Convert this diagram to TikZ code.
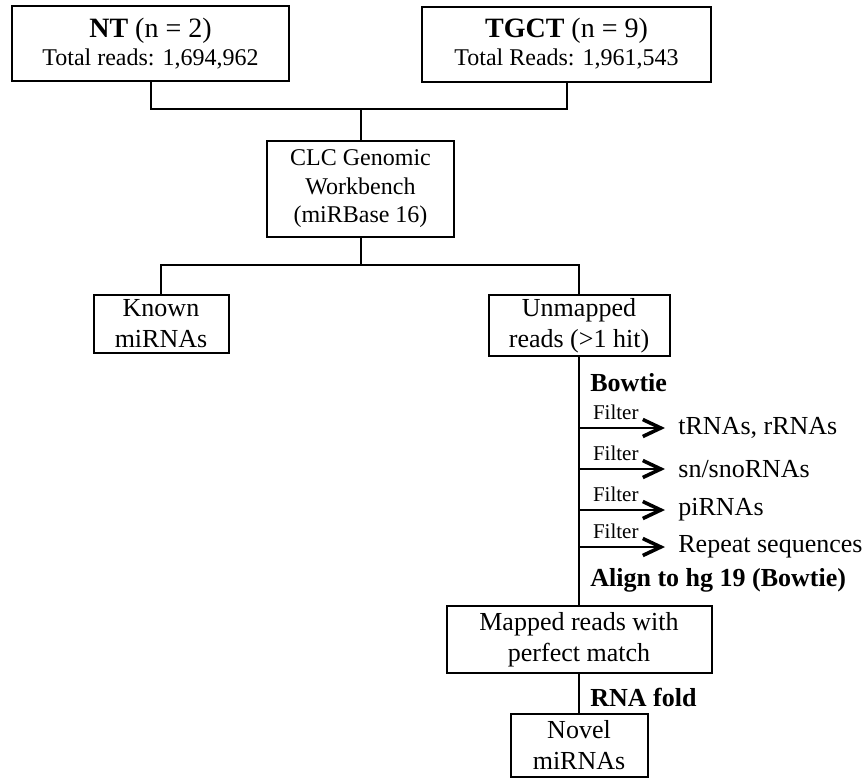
\documentclass[tikz,border=0pt]{standalone}
\usepackage{fontspec}
\setmainfont{Liberation Serif}
\usetikzlibrary{arrows.meta,positioning,calc}

\begin{document}
\begin{tikzpicture}[x=0.5pt,y=-0.5pt,
                stage/.style={draw,line width=1pt,align=center,inner sep=1pt,
                              font=\fontsize{13}{15.5}\selectfont},
                link/.style={line width=1pt},
                steplbl/.style={font=\fontsize{13}{15.5}\selectfont\bfseries,
                                anchor=west,inner sep=1pt},
                sidelbl/.style={font=\fontsize{13}{15.5}\selectfont,anchor=west,inner sep=1pt},
                filterlbl/.style={font=\fontsize{10.5}{12}\selectfont,anchor=south west,
                                  inner sep=0pt,xshift=6.5pt,yshift=3.5pt},
                filterarrow/.style={line width=1pt,shorten >=5.5pt,
                                    -{Straight Barb[length=9pt,width=8.5pt,line width=1.8pt]}}
            ]
                \useasboundingbox (0,0) rectangle (868,778);
                % samples
                \node[stage,minimum width=138.5pt,minimum height=37.5pt,
                      font=\fontsize{12}{14}\selectfont] (nt) at (150.5,43.5) {
                    {\fontsize{14}{14}\selectfont\textbf{NT} (n = 2)}\\
                    Total reads: 1,694,962
                };
                \node[stage,minimum width=144.5pt,minimum height=37.5pt,
                      font=\fontsize{12}{14}\selectfont] (tgct) at (566.5,44) {
                    {\fontsize{14}{14}\selectfont\textbf{TGCT} (n = 9)}\\
                    Total Reads: 1,961,543
                };
                % mapping
                \node[stage,minimum width=93.5pt,minimum height=48pt,
                      font=\fontsize{12}{14.2}\selectfont] (clc) at (360.5,189) {
                    CLC Genomic\\Workbench\\(miRBase 16)
                };
                \node[stage,minimum width=67.5pt,minimum height=29pt] (known) at (161,324) {
                    Known\\miRNAs
                };
                \node[stage,minimum width=90.5pt,minimum height=30.5pt] (unmapped) at (579,325.5) {
                    Unmapped\\reads (>1 hit)
                };
                \node[stage,minimum width=132.5pt,minimum height=33.5pt] (mapped) at (579,639.5) {
                    Mapped reads with\\perfect match
                };
                \node[stage,minimum width=68.5pt,minimum height=31.5pt] (novel) at (579,745.5) {
                    Novel\\miRNAs
                };

                \coordinate (merge) at (360.5,109);
                \coordinate (split) at (360.5,265);
                \draw[link] (nt.south) |- (merge) -| (tgct.south);
                \draw[link] (merge) -- (clc.north);
                \draw[link] (clc.south) -- (split);
                \draw[link] (known.north) |- (split) -| (unmapped.north);
                \draw[link] (unmapped.south) -- (mapped.north);
                \draw[link] (mapped.south) -- (novel.north);

                % filtering steps
                \node[steplbl] (bowtie) at (588,383) {Bowtie};
                \node[sidelbl] (trna) at (676,428) {tRNAs, rRNAs};
                \node[sidelbl] (snorna) at (676,469) {sn/snoRNAs};
                \node[sidelbl] (pirna) at (676,510) {piRNAs};
                \node[sidelbl] (repeats) at (676,547) {Repeat sequences};
                \draw[filterarrow] (unmapped.south |- trna.west)
                    -- node[filterlbl,pos=0] (filter1) {Filter} (trna.west);
                \draw[filterarrow] (unmapped.south |- snorna.west)
                    -- node[filterlbl,pos=0] (filter2) {Filter} (snorna.west);
                \draw[filterarrow] (unmapped.south |- pirna.west)
                    -- node[filterlbl,pos=0] (filter3) {Filter} (pirna.west);
                \draw[filterarrow] (unmapped.south |- repeats.west)
                    -- node[filterlbl,pos=0] (filter4) {Filter} (repeats.west);
                \node[steplbl] (align) at (588,580) {Align to hg 19 (Bowtie)};
                \node[steplbl] (rnafold) at (588,697) {RNA fold};
            \end{tikzpicture}
\end{document}
